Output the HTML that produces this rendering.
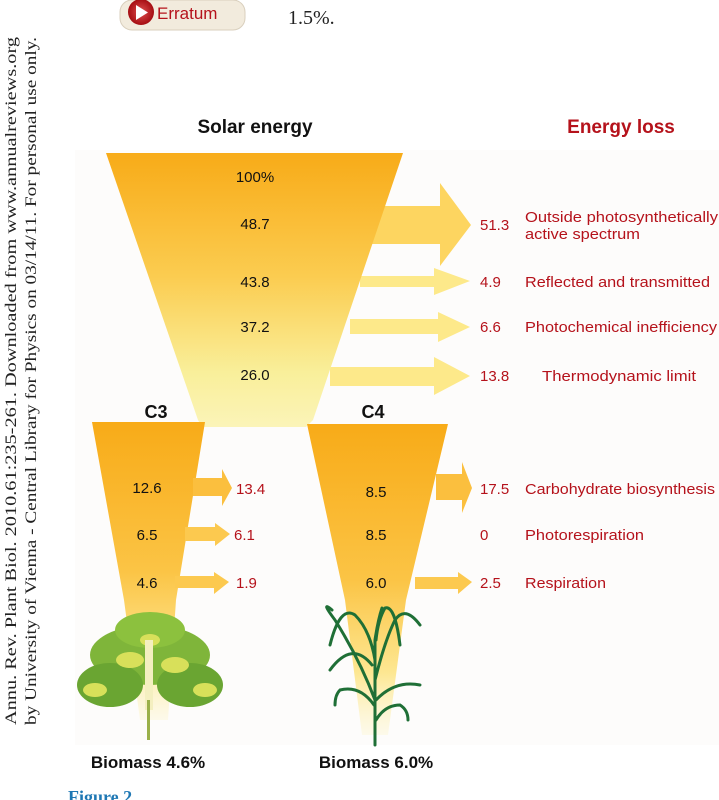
<!DOCTYPE html>
<html><head><meta charset="utf-8"><style>
html,body{margin:0;padding:0;background:#fff;}
svg{display:block}
</style></head><body>
<svg width="719" height="800" viewBox="0 0 719 800" xmlns="http://www.w3.org/2000/svg" font-family="Liberation Sans, sans-serif">
<defs>
<linearGradient id="gm" x1="0" y1="0" x2="0" y2="1">
<stop offset="0" stop-color="#f8ab18"/><stop offset="0.45" stop-color="#fbcc50"/><stop offset="0.8" stop-color="#f9ef9a"/><stop offset="1" stop-color="#fbf4b8"/></linearGradient>
<linearGradient id="gc" x1="0" y1="0" x2="0" y2="1">
<stop offset="0" stop-color="#f8ab18"/><stop offset="0.5" stop-color="#fbc445"/><stop offset="0.8" stop-color="#fde792"/><stop offset="1" stop-color="#fdf6d0" stop-opacity="0.4"/></linearGradient>
<radialGradient id="btn" cx="0.5" cy="0.5" r="0.5"><stop offset="0" stop-color="#e05050"/><stop offset="1" stop-color="#a50d12"/></radialGradient>
</defs>
<rect x="75" y="150" width="644" height="595" fill="#fdfcfb"/>
<!-- header -->
<rect x="120" y="0" width="125" height="30" rx="12" fill="#f2ebdd" stroke="#d9cfbd"/>
<circle cx="141" cy="12" r="13" fill="url(#btn)"/>
<polygon points="136,5 136,20 148,12.5" fill="#fff"/>
<text x="157" y="19" font-size="17" fill="#b5121b">Erratum</text>
<text x="288" y="24" font-size="20" font-family="Liberation Serif, serif" fill="#222">1.5%.</text>
<g font-family="Liberation Serif, serif" font-size="15.5" fill="#222">
<text transform="translate(16,725) rotate(-90)" textLength="688" lengthAdjust="spacingAndGlyphs">Annu. Rev. Plant Biol. 2010.61:235-261. Downloaded from www.annualreviews.org</text>
<text transform="translate(36,725) rotate(-90)" textLength="688" lengthAdjust="spacingAndGlyphs">by University of Vienna - Central Library for Physics on 03/14/11. For personal use only.</text>
</g>
<text x="255" y="133" font-size="19" font-weight="bold" text-anchor="middle" fill="#111">Solar energy</text>
<text x="621" y="133" font-size="19" font-weight="bold" text-anchor="middle" fill="#b5121b">Energy loss</text>
<!-- arrows main -->
<g fill="#fdd560">
<polygon points="367,206 440,206 440,183 471,225 440,266 440,244 367,244"/>
</g>
<g fill="#fde98a">
<polygon points="360,276 434,276 434,268 470,281 434,295 434,287 360,287"/>
<polygon points="350,319 438,319 438,312 470,327 438,342 438,334 350,334"/>
<polygon points="330,367 434,367 434,357 470,376 434,395 434,386 330,386"/>
</g>
<polygon points="106,153 403,153 313,420 306,427 202,427 198,420" fill="url(#gm)"/>
<!-- C3 / C4 funnels -->
<polygon points="92,422 205,422 176,600 168,720 140,720 124,600" fill="url(#gc)"/>
<polygon points="307,424 448,424 406,600 388,735 362,735 345,600" fill="url(#gc)"/>
<g fill="#fbbf3e">
<polygon points="193,478 222,478 222,469 232,488 222,506 222,496 193,496"/>
<polygon points="436,474 462,474 462,462 472,488 462,513 462,500 436,500"/>
</g>
<g fill="#fcc94f">
<polygon points="185,527 215,527 215,523 230,534 215,546 215,541 185,541"/>
<polygon points="175,576 214,576 214,572 229,582 214,594 214,588 175,588"/>
<polygon points="415,577 458,577 458,572 472,582 458,594 458,589 415,589"/>
</g>
<text x="156" y="418" font-size="18" font-weight="bold" fill="#111" text-anchor="middle">C3</text>
<text x="373" y="418" font-size="18" font-weight="bold" fill="#111" text-anchor="middle">C4</text>
<g font-size="15" fill="#111" text-anchor="middle">
<text x="255" y="182">100%</text>
<text x="255" y="229">48.7</text>
<text x="255" y="287">43.8</text>
<text x="255" y="332">37.2</text>
<text x="255" y="380">26.0</text>
<text x="147" y="493">12.6</text>
<text x="147" y="540">6.5</text>
<text x="147" y="588">4.6</text>
<text x="376" y="497">8.5</text>
<text x="376" y="540">8.5</text>
<text x="376" y="588">6.0</text>
</g>
<g font-size="15" fill="#b5121b">
<text x="480" y="230">51.3</text>
<text x="525" y="222" textLength="193" lengthAdjust="spacingAndGlyphs">Outside photosynthetically</text>
<text x="525" y="239" textLength="115" lengthAdjust="spacingAndGlyphs">active spectrum</text>
<text x="480" y="287">4.9</text>
<text x="525" y="287" textLength="185" lengthAdjust="spacingAndGlyphs">Reflected and transmitted</text>
<text x="480" y="332">6.6</text>
<text x="525" y="332" textLength="192" lengthAdjust="spacingAndGlyphs">Photochemical inefficiency</text>
<text x="480" y="381">13.8</text>
<text x="542" y="381" textLength="154" lengthAdjust="spacingAndGlyphs">Thermodynamic limit</text>
<text x="236" y="494">13.4</text>
<text x="234" y="540">6.1</text>
<text x="236" y="588">1.9</text>
<text x="480" y="494">17.5</text>
<text x="525" y="494" textLength="190" lengthAdjust="spacingAndGlyphs">Carbohydrate biosynthesis</text>
<text x="480" y="540">0</text>
<text x="525" y="540" textLength="119" lengthAdjust="spacingAndGlyphs">Photorespiration</text>
<text x="480" y="588">2.5</text>
<text x="525" y="588" textLength="81" lengthAdjust="spacingAndGlyphs">Respiration</text>
</g>
<!-- C3 plant -->
<g>
<ellipse cx="150" cy="655" rx="60" ry="30" fill="#7fb53a"/>
<ellipse cx="110" cy="685" rx="33" ry="22" fill="#6aa532"/>
<ellipse cx="190" cy="685" rx="33" ry="22" fill="#6aa532"/>
<ellipse cx="150" cy="630" rx="35" ry="18" fill="#8cc13e"/>
<ellipse cx="130" cy="660" rx="14" ry="8" fill="#d8e05a"/>
<ellipse cx="175" cy="665" rx="14" ry="8" fill="#d8e05a"/>
<ellipse cx="95" cy="690" rx="12" ry="7" fill="#d8e05a"/>
<ellipse cx="205" cy="690" rx="12" ry="7" fill="#d8e05a"/>
<ellipse cx="150" cy="640" rx="10" ry="6" fill="#d8e05a"/>
<rect x="145" y="640" width="8" height="70" fill="#f4efc0"/>
<rect x="147" y="700" width="3" height="40" fill="#9ab04a"/>
</g>
<!-- C4 plant -->
<g stroke="#1f6f36" stroke-width="3" fill="none" stroke-linecap="round">
<path d="M375,745 L375,640 Q378,620 382,608"/>
<path d="M375,700 Q360,660 335,620 Q320,600 332,610"/>
<path d="M375,680 Q385,640 395,620 Q405,605 420,625"/>
<path d="M375,660 Q370,630 355,615 Q340,605 330,645"/>
<path d="M376,640 Q378,620 385,608 Q395,605 400,645"/>
<path d="M374,705 Q360,685 340,690 Q335,695 335,705"/>
<path d="M376,720 Q385,705 400,705 Q408,710 408,720"/>
<path d="M376,700 Q395,680 420,685"/>
<path d="M372,665 Q352,640 330,670"/>
</g>
<text x="148" y="768" font-size="17" font-weight="bold" text-anchor="middle" fill="#111">Biomass 4.6%</text>
<text x="376" y="768" font-size="17" font-weight="bold" text-anchor="middle" fill="#111">Biomass 6.0%</text>
<text x="68" y="803" font-size="18" font-weight="bold" font-family="Liberation Serif, serif" fill="#1f78b4">Figure 2</text>
</svg>
</body></html>
